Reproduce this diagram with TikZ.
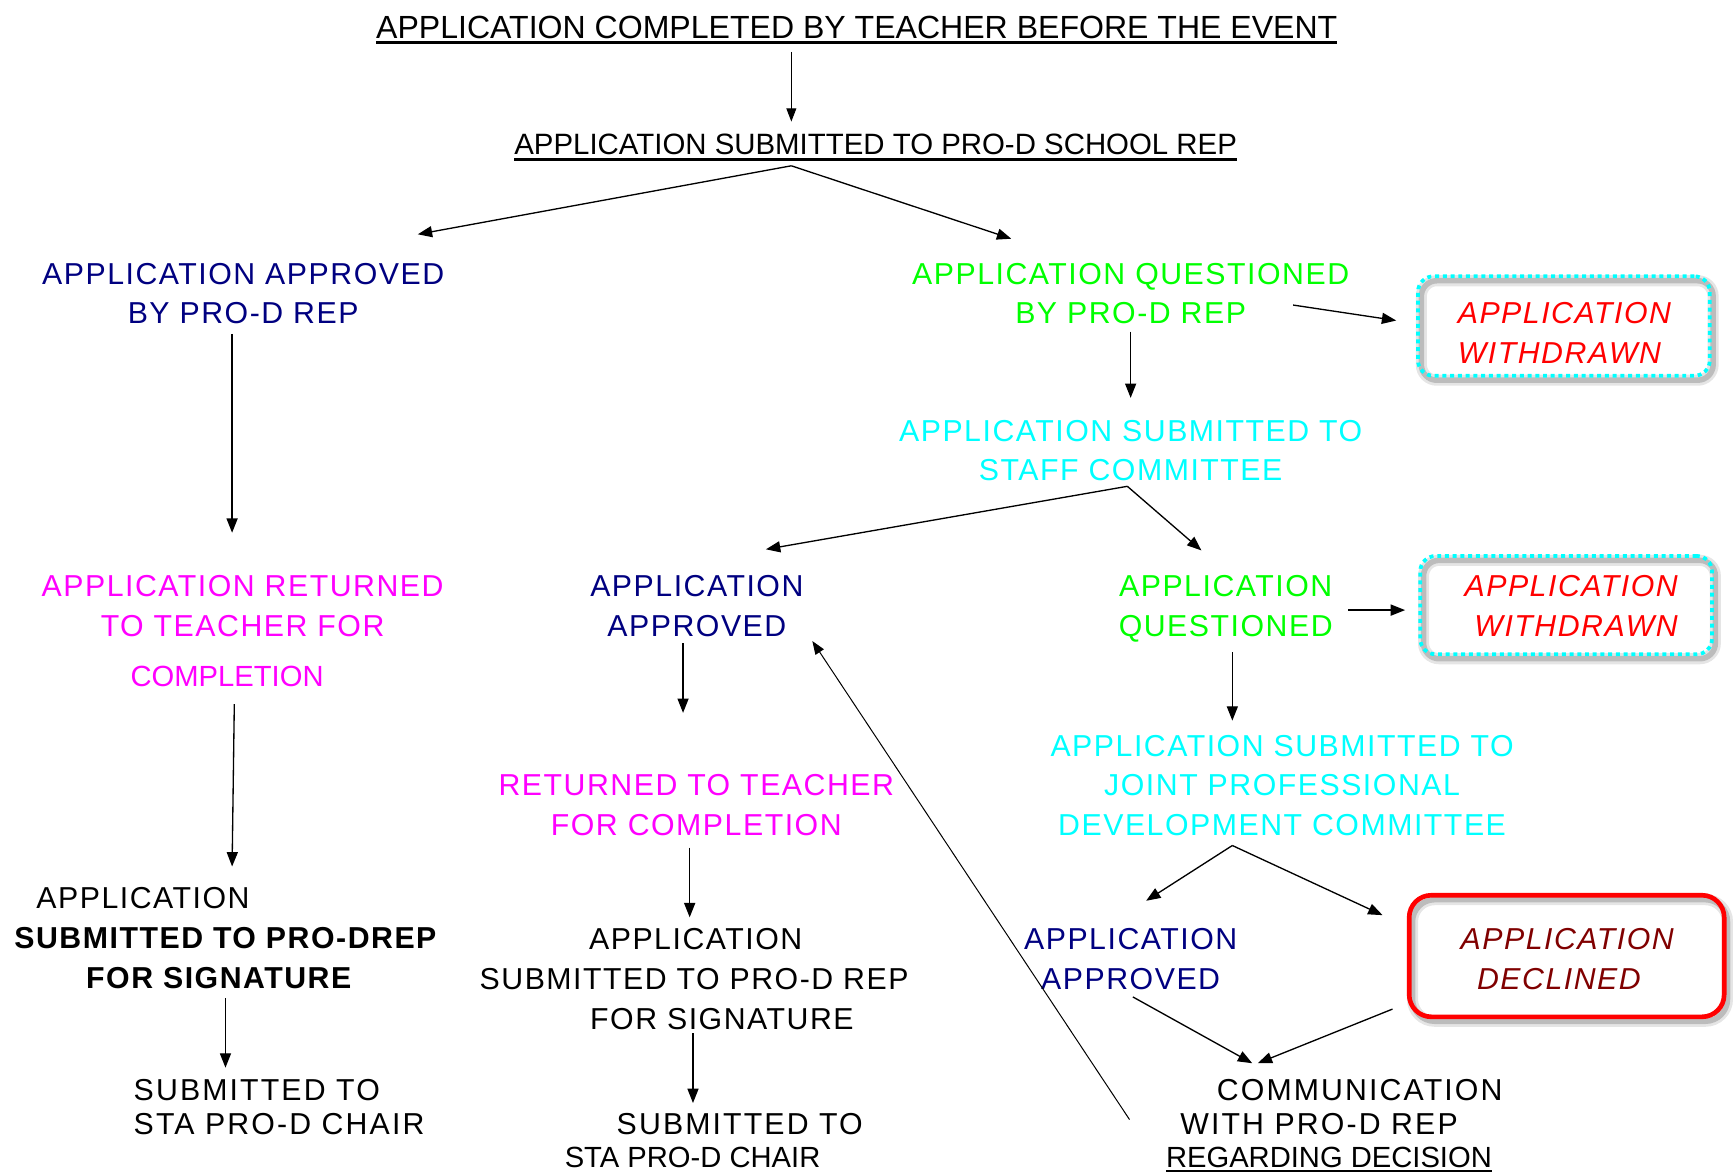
\documentclass[tikz,border=0pt]{standalone}
\usepackage{fontspec}
\setmainfont{Liberation Sans}
\newfontfamily\lsp[LetterSpace=5]{Liberation Sans}
\newfontfamily\lspw[LetterSpace=7]{Liberation Sans}
\usetikzlibrary{arrows.meta,calc}
\definecolor{navyc}{RGB}{0,0,128}
\definecolor{limec}{RGB}{0,255,0}
\definecolor{cyanc}{RGB}{0,255,255}
\definecolor{magc}{RGB}{255,0,255}
\definecolor{redc}{RGB}{255,0,0}
\definecolor{maroonc}{RGB}{128,0,0}
\newcommand\fbody{\lsp\fontsize{13.7pt}{18pt}\selectfont}
\newcommand\fbodytight{\lspw\fontsize{13.7pt}{15pt}\selectfont}
\newcommand\fplain{\normalfont\fontsize{13.2pt}{15pt}\selectfont}
\newcommand\myul[3]{\setbox0\hbox{#3}\rlap{\rule[-#1]{\wd0}{#2}}\box0}
\begin{document}
\begin{tikzpicture}[x=0.5pt,y=-0.5pt,
  lbl/.style={inner sep=0pt, outer sep=0pt, font=\fbody},
  lblt/.style={inner sep=0pt, outer sep=0pt, font=\fbodytight},
  arr/.style={-{Triangle[length=6.5pt,width=5pt]}, line width=0.6pt},
  thinarr/.style={-{Triangle[length=6pt,width=4.5pt]}, line width=0.45pt},
  shad/.style={
    preaction={draw=black, draw opacity=0.10, line width=5pt, solid,
      transform canvas={shift={(1.5pt,-2pt)}}},
    preaction={draw=black, draw opacity=0.18, line width=2.5pt, solid,
      transform canvas={shift={(1.5pt,-2pt)}}}},
  wbox/.style={shad, draw=cyanc, line width=1.7pt, dash pattern=on 1.8pt off 1.7pt,
    rounded corners=7pt, inner sep=0pt},
  dbox/.style={shad, draw=redc, line width=2.1pt, rounded corners=10pt, inner sep=0pt}]
\useasboundingbox (0,0) rectangle (1568,1061);

% titles
\node[inner sep=0pt, anchor=north west, font=\fontsize{14.5pt}{18pt}\selectfont] (t1) at (340,14)
  {\myul{2.4pt}{1.2pt}{APPLICATION COMPLETED BY TEACHER BEFORE THE EVENT}};
\node[inner sep=0pt, anchor=north west, font=\fontsize{13.3pt}{18pt}\selectfont] (t2) at (465,121)
  {\myul{2.9pt}{1.2pt}{APPLICATION SUBMITTED TO PRO-D SCHOOL REP}};

% level 2
\node[lbl, text=navyc, anchor=north, align=center] (aa1) at (220,238) {APPLICATION APPROVED\\BY PRO-D REP};
\node[lbl, text=limec, anchor=north, align=center] (aq1) at (1023,238) {APPLICATION QUESTIONED\\BY PRO-D REP};

% boxes
\node[wbox, minimum width=132pt, minimum height=45pt] (w1) at (1415,295) {};
\node[lbl, text=redc, font=\fbody\itshape, anchor=north west, align=left] (w1t) at (1319,274) {APPLICATION\\WITHDRAWN};
\node[wbox, minimum width=132pt, minimum height=44.5pt] (w2) at (1417,547.5) {};
\node[lbl, text=redc, font=\fbody\itshape, anchor=north east, align=right] (w2t) at (1518,521) {APPLICATION\\WITHDRAWN};
\node[dbox, minimum width=142.5pt, minimum height=55pt] (dec) at (1417.5,865) {};
\node[lbl, text=maroonc, font=\fbody\itshape, anchor=north, align=center] (dect) at (1418,840) {APPLICATION\\DECLINED\hspace*{7.5pt}};

% level 3
\node[lbl, text=cyanc, anchor=north, align=center] (sc1) at (1023,380) {APPLICATION SUBMITTED TO\\STAFF COMMITTEE};
\node[lbl, text=magc, anchor=north, align=center] (ar1) at (219.5,521)
  {APPLICATION RETURNED\\TO TEACHER FOR\\[4.5pt]{\normalfont\fontsize{13.2pt}{18pt}\selectfont COMPLETION}\hspace*{14pt}};
\node[lbl, text=navyc, anchor=north, align=center] (ap2) at (630.5,521) {APPLICATION\\APPROVED};
\node[lbl, text=limec, anchor=north, align=center] (aq2) at (1109,521) {APPLICATION\\QUESTIONED};

% level 4
\node[lbl, text=magc, anchor=north, align=center] (rt) at (630,701) {RETURNED TO TEACHER\\FOR COMPLETION};
\node[lbl, text=cyanc, anchor=north, align=center] (jp) at (1160,665)
  {APPLICATION SUBMITTED TO\\JOINT PROFESSIONAL\\DEVELOPMENT COMMITTEE};

% level 5
\node[lbl, anchor=north west, align=left] (sp1) at (13,803)
  {\hspace*{10pt}APPLICATION\\\textbf{SUBMITTED TO PRO-DREP}\\\hspace*{32.5pt}\textbf{FOR SIGNATURE}};
\node[lbl, anchor=north west, align=left] (sp2) at (434,840)
  {\hspace*{49.5pt}APPLICATION\\SUBMITTED TO PRO-D REP\\\hspace*{50pt}FOR SIGNATURE};
\node[lbl, text=navyc, anchor=north, align=center] (ap3) at (1023,840) {APPLICATION\\APPROVED};

% level 6
\node[lblt, anchor=north west, align=left] (sc2) at (121,977) {SUBMITTED TO\\STA PRO-D CHAIR};
\node[lblt, anchor=north west, align=left] (sc3) at (511,1007)
  {\hspace*{23.5pt}SUBMITTED TO\\{\fplain STA PRO-D CHAIR}};
\node[lblt, anchor=north west, align=left] (com) at (1055,977)
  {\hspace*{23pt}COMMUNICATION\\\hspace*{6.5pt}WITH PRO-D REP\\{\fplain\myul{2pt}{0.9pt}{REGARDING DECISION}}};

% connectors
\draw[thinarr] ($(t1.north west)+(376,33)$) -- ($(t2.north west)+(251,-11)$);
\draw[arr] ($(t2.north west)+(251,29)$) -- ($(aa1.north)+(158,-26)$);
\draw[arr] ($(t2.north west)+(251,29)$) -- ($(aq1.north)+(-108,-22)$);
\draw[arr] ($(aq1.north)+(147,38)$) -- ($(w1.west)+(-18,-5)$);
\draw[arr] ($(aq1.north)+(0,62)$) -- ($(sc1.north)+(0,-20)$);
\draw[arr] ($(aa1.north)+(-10,64)$) -- ($(ar1.north)+(-9.5,-39)$);
\draw[arr] ($(sc1.north)+(-3,60)$) -- ($(ap2.north)+(62.5,-24)$);
\draw[arr] ($(sc1.north)+(-3,60)$) -- ($(aq2.north)+(-22,-23)$);
\draw[arr] ($(aq2.north)+(111,31)$) -- ($(w2.west)+(-12,4.5)$);
\draw[arr] ($(ap2.north)+(-12.5,61)$) -- ($(rt.north)+(-12,-56)$);
\draw[arr] ($(aq2.north)+(6,69)$) -- ($(jp.north)+(-45,-13)$);
\draw[arr] ($(ar1.north)+(-7.5,116)$) -- ($(sp1.north west)+(197,-19)$);
\draw[arr] ($(rt.north)+(-6,66)$) -- ($(sp2.north west)+(190,-10)$);
\draw[arr] ($(jp.north)+(-45,100)$) -- ($(ap3.north)+(14,-25)$);
\draw[arr] ($(jp.north)+(-45,100)$) -- ($(dec.west)+(-22,-37)$);
\draw[arr] ($(sp1.north west)+(191,100)$) -- ($(sc2.north west)+(83,-11)$);
\draw[arr] ($(sp2.north west)+(193,95)$) -- ($(sc3.north west)+(116,-9)$);
\draw[arr] ($(ap3.north)+(2,62)$) -- ($(com.north west)+(78,-15)$);
\draw[arr] ($(dec.west)+(-13,48)$) -- ($(com.north west)+(83,-15)$);
\draw[thinarr] ($(com.north west)+(-33,36)$) -- ($(ap2.north)+(104.5,59)$);
\end{tikzpicture}
\end{document}
